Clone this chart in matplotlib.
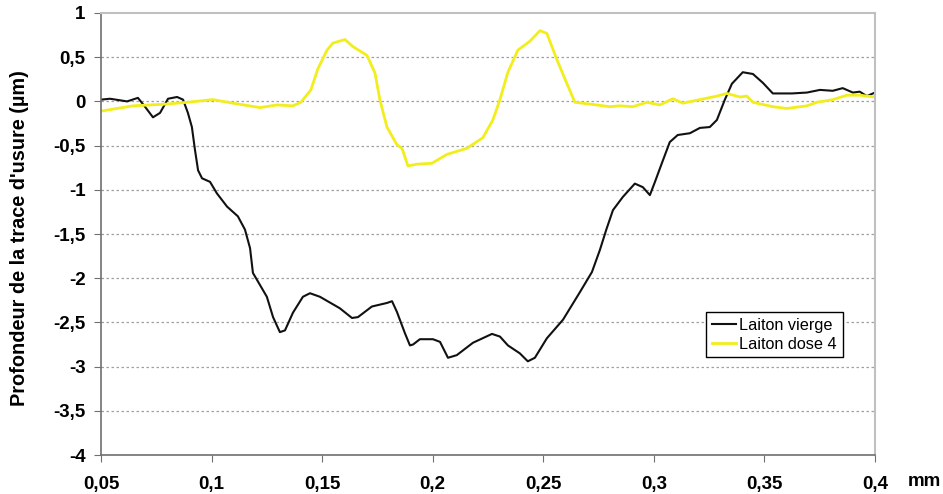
import numpy as np
import matplotlib
matplotlib.use("Agg")
import matplotlib.pyplot as plt
from matplotlib.ticker import FuncFormatter, MultipleLocator

plt.rcParams['font.family'] = ['Liberation Sans', 'DejaVu Sans']

# Laiton vierge (black)
x_vierge = [0.0500, 0.0541, 0.0618, 0.0667, 0.0699, 0.0735, 0.0767, 0.0803, 0.0844,
            0.0871, 0.0893, 0.0911, 0.0925, 0.0939, 0.0957, 0.0993, 0.1024, 0.1070,
            0.1119, 0.1151, 0.1174, 0.1187, 0.1250, 0.1278, 0.1309, 0.1332, 0.1368,
            0.1413, 0.1445, 0.1490, 0.1580, 0.1635, 0.1662, 0.1725, 0.1793, 0.1816,
            0.1838, 0.1874, 0.1897, 0.1911, 0.1942, 0.2001, 0.2033, 0.2069, 0.2109,
            0.2182, 0.2268, 0.2304, 0.2340, 0.2394, 0.2430, 0.2462, 0.2516, 0.2589,
            0.2665, 0.2720, 0.2756, 0.2785, 0.2815, 0.2860, 0.2914, 0.2950, 0.2982,
            0.3005, 0.3036, 0.3072, 0.3108, 0.3163, 0.3208, 0.3253, 0.3285, 0.3321,
            0.3353, 0.3402, 0.3448, 0.3493, 0.3538, 0.3624, 0.3692, 0.3751, 0.3809,
            0.3854, 0.3900, 0.3931, 0.3963, 0.4000]
y_vierge = [0.02, 0.03, 0.00, 0.04, -0.06, -0.18, -0.13, 0.03, 0.05,
            0.02, -0.13, -0.29, -0.55, -0.78, -0.87, -0.91, -1.04, -1.19,
            -1.30, -1.45, -1.66, -1.94, -2.21, -2.44, -2.61, -2.59, -2.39,
            -2.21, -2.17, -2.21, -2.34, -2.45, -2.44, -2.32, -2.28, -2.26,
            -2.38, -2.62, -2.76, -2.75, -2.69, -2.69, -2.72, -2.90, -2.87,
            -2.73, -2.63, -2.66, -2.76, -2.85, -2.94, -2.90, -2.68, -2.47,
            -2.16, -1.93, -1.68, -1.45, -1.23, -1.08, -0.93, -0.97, -1.06,
            -0.91, -0.70, -0.46, -0.38, -0.36, -0.30, -0.29, -0.21, 0.02,
            0.20, 0.33, 0.31, 0.21, 0.09, 0.09, 0.10, 0.13, 0.12,
            0.15, 0.10, 0.11, 0.06, 0.10]

# Laiton dose 4 (yellow)
x_dose4 = [0.0500, 0.0645, 0.0798, 0.0889, 0.1006, 0.1097, 0.1219, 0.1296, 0.1368,
           0.1404, 0.1449, 0.1481, 0.1522, 0.1549, 0.1603, 0.1639, 0.1703, 0.1739,
           0.1761, 0.1793, 0.1838, 0.1861, 0.1888, 0.1929, 0.1996, 0.2064, 0.2155,
           0.2227, 0.2272, 0.2304, 0.2340, 0.2385, 0.2439, 0.2485, 0.2516, 0.2562,
           0.2607, 0.2643, 0.2711, 0.2801, 0.2846, 0.2905, 0.2968, 0.3027, 0.3086,
           0.3131, 0.3208, 0.3285, 0.3330, 0.3389, 0.3420, 0.3448, 0.3538, 0.3601,
           0.3692, 0.3737, 0.3809, 0.3873, 0.3931, 0.4000]
y_dose4 = [-0.11, -0.05, -0.03, -0.01, 0.02, -0.02, -0.07, -0.04, -0.05,
           -0.01, 0.13, 0.37, 0.58, 0.66, 0.70, 0.62, 0.52, 0.32,
           0.02, -0.29, -0.49, -0.53, -0.73, -0.71, -0.70, -0.60, -0.53,
           -0.41, -0.21, 0.02, 0.33, 0.58, 0.68, 0.80, 0.77, 0.47,
           0.20, -0.01, -0.03, -0.06, -0.05, -0.06, -0.01, -0.04, 0.03,
           -0.02, 0.02, 0.06, 0.09, 0.05, 0.06, -0.01, -0.06, -0.08,
           -0.05, -0.01, 0.02, 0.07, 0.07, 0.05]

fig = plt.figure(figsize=(9.43, 4.94), dpi=100)
ax = fig.add_axes([0.1071, 0.0789, 0.8208, 0.8948])

ax.plot(x_vierge, y_vierge, color='#111111', lw=1.5, label='Laiton vierge')
ax.plot(x_dose4, y_dose4, color='#F2EE1D', lw=2.0, label='Laiton dose 4')

ax.set_xlim(0.05, 0.4)
ax.set_ylim(-4, 1)
ax.xaxis.set_major_locator(MultipleLocator(0.05))
ax.yaxis.set_major_locator(MultipleLocator(0.5))

comma = FuncFormatter(lambda v, p: ('%g' % round(v, 3)).replace('.', ','))
ax.xaxis.set_major_formatter(comma)
ax.yaxis.set_major_formatter(comma)

for g in np.arange(-3.5, 1.0, 0.5):
    ax.axhline(g, color='#a0a0a0', lw=0.9, ls=(0, (2, 2)), zorder=0)

for s in ['left', 'bottom']:
    ax.spines[s].set_color('#707070')
    ax.spines[s].set_linewidth(1.2)
for s in ['top', 'right']:
    ax.spines[s].set_color('#c0c0c0')
    ax.spines[s].set_linewidth(1.5)

ax.tick_params(axis='both', direction='out', length=5, color='#707070',
               labelsize=13.5)
ax.tick_params(axis='x', pad=10)
ax.tick_params(axis='y', pad=6)
for lab in ax.get_xticklabels() + ax.get_yticklabels():
    lab.set_fontweight('bold')

ax.set_ylabel("Profondeur de la trace d'usure (µm)", fontsize=14.3,
              fontweight='bold')
ax.yaxis.set_label_coords(-0.093, 0.49)
fig.text(924 / 943, 1 - 481 / 494, 'mm', fontsize=13.5, fontweight='bold',
         ha='center', va='center')

leg = ax.legend(loc='upper left', bbox_to_anchor=(0.7817, 0.3235),
                fontsize=11.7, frameon=True, fancybox=False, framealpha=1,
                edgecolor='black', handlelength=1.5, handletextpad=0.2,
                borderpad=0.35, labelspacing=0.25, borderaxespad=0)
leg.get_frame().set_linewidth(1.0)

fig.savefig('out.png', dpi=100)
